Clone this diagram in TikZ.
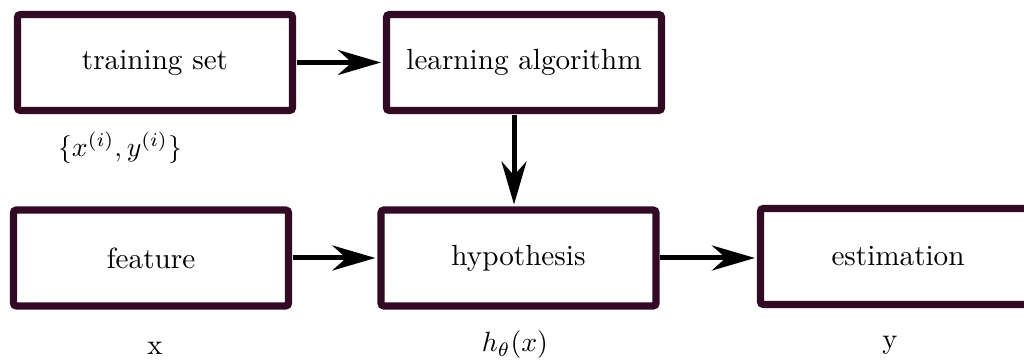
\documentclass[tikz,border=0pt]{standalone}
\usetikzlibrary{arrows.meta}
\definecolor{boxborder}{RGB}{50,10,36}
\begin{document}
\begin{tikzpicture}[x=0.36pt,y=-0.36pt,
  blockbox/.style={draw=boxborder, line width=2.6pt, rounded corners=1pt,
    minimum width=99pt, minimum height=34.5pt, inner sep=0pt, outer sep=0pt,
    fill=white, font=\fontsize{10.5}{12}\selectfont},
  flow/.style={line width=1.8pt, -{Stealth[length=15.5pt,width=9pt,inset=5pt]},
    shorten <=1.5pt, shorten >=2pt},
  note/.style={inner sep=0pt, font=\fontsize{10.3}{12}\selectfont}]
\useasboundingbox (0,0) rectangle (1024,361);
\begin{scope}
\clip (0,0) rectangle (1024,361);
\node[blockbox] (train) at (155,62.5) {training set};
\node[blockbox] (learn) at (524,62.5) {learning algorithm};
\node[blockbox] (feat) at (151,258) {feature};
\node[blockbox] (hyp) at (518.5,258) {hypothesis};
\node[blockbox] (est) at (898,256.5) {estimation};
\end{scope}

\node[note] (trainlbl) at (120,148) {$\{x^{(i)},y^{(i)}\}$};
\node[note] (featlbl) at (155,348) {x};
\node[note] (hyplbl) at (515,345) {$h_\theta(x)$};
\node[note] (estlbl) at (890,345) {y};

\draw[flow] (train.east) -- (learn.west |- train.east);
\draw[flow] (learn.south -| 514,0) -- (hyp.north -| 514,0);
\draw[flow] (feat.east) -- (hyp.west |- feat.east);
\draw[flow] (hyp.east) -- (est.west |- hyp.east);
\end{tikzpicture}
\end{document}
